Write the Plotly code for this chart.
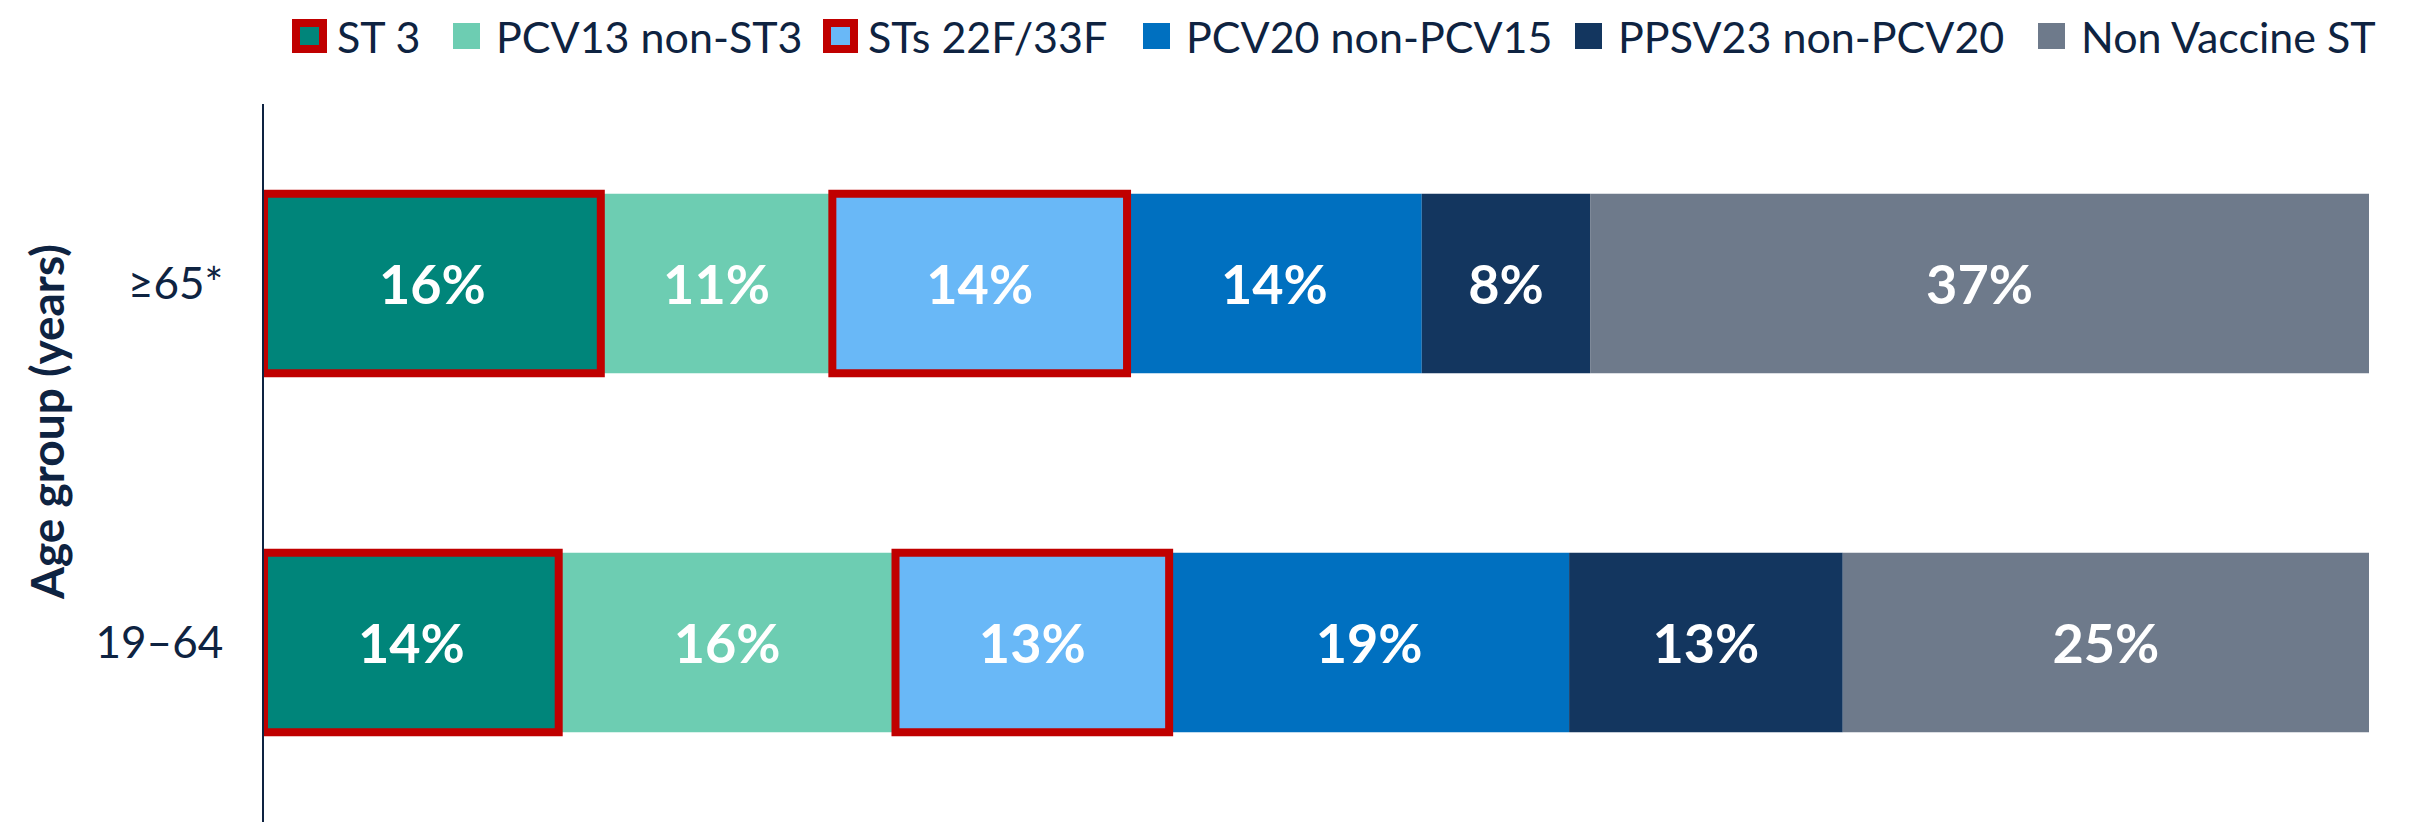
import numpy as np
import plotly.graph_objects as go

# data
age_groups = ["19–64", "≥65*"]
series_names = ["ST 3", "PCV13 non-ST3", "STs 22F/33F", "PCV20 non-PCV15",
                "PPSV23 non-PCV20", "Non Vaccine ST"]
st3 = [14, 16]
pcv13_non_st3 = [16, 11]
sts_22f_33f = [13, 14]
pcv20_non_pcv15 = [19, 14]
ppsv23_non_pcv20 = [13, 8]
non_vaccine_st = [25, 37]

series_values = [st3, pcv13_non_st3, sts_22f_33f, pcv20_non_pcv15,
                 ppsv23_non_pcv20, non_vaccine_st]
colors = ["#00857A", "#6DCDB2", "#69B8F7", "#0070C0", "#13365F", "#6E7A8B"]
outlined = [True, False, True, False, False, False]
RED = "#C00000"
NAVY = "#0E2341"
FONT = "Lato"

W, H = 2410, 822
L, R, T, B = 256, 49, 96, 8
OFF = 8  # the page body margin shifts the figure by 8px


def fx(px):
    return (px - OFF - L) / (W - L - R)


def fy(py):
    return (H - B - (py - OFF)) / (H - T - B)


bases = np.cumsum([[0, 0]] + series_values[:-1], axis=0)

traces = []
for name, vals, base, col, out in zip(series_names, series_values, bases, colors, outlined):
    traces.append((out, go.Bar(
        name=name, y=age_groups, x=vals, base=list(base), orientation="h",
        width=0.5, showlegend=False,
        marker=dict(color=col, line=dict(color=RED if out else col, width=8 if out else 0)),
        texttemplate="%{x}%", textposition="inside", insidetextanchor="middle",
        textangle=0, textfont=dict(family=FONT, size=54, color="white", weight="bold"),
        hoverinfo="skip",
    )))
# outlined bars last so the red borders sit on top of their neighbours
fig = go.Figure([t for out, t in traces if not out] + [t for out, t in traces if out])

# legend drawn by hand so the swatches can be as large as in the original
legend_x = [292, 453, 823, 1143, 1575, 2038]
legend_y = 36
shapes, annotations = [], []
for lx, name, col, out in zip(legend_x, series_names, colors, outlined):
    if out:
        shapes.append(dict(type="rect", xref="paper", yref="paper",
                           x0=fx(lx + 4), x1=fx(lx + 31),
                           y0=fy(legend_y + 13), y1=fy(legend_y - 13),
                           fillcolor=col, line=dict(color=RED, width=8)))
        tx = lx + 43
    else:
        shapes.append(dict(type="rect", xref="paper", yref="paper",
                           x0=fx(lx), x1=fx(lx + 27),
                           y0=fy(legend_y + 13), y1=fy(legend_y - 13),
                           fillcolor=col, line=dict(width=0)))
        tx = lx + 41
    annotations.append(dict(text=name, xref="paper", yref="paper", x=fx(tx), y=fy(legend_y),
                            xanchor="left", yanchor="middle", showarrow=False,
                            font=dict(family=FONT, size=43, color=NAVY)))

annotations.append(dict(text="<b>Age group (years)</b>", xref="paper", yref="paper",
                        x=fx(46), y=fy(422), textangle=-90, xanchor="center", yanchor="middle",
                        showarrow=False, font=dict(family=FONT, size=46, color=NAVY)))

fig.update_layout(
    width=W, height=H, barmode="overlay",
    margin=dict(l=L, r=R, t=T, b=B),
    plot_bgcolor="white", paper_bgcolor="white",
    shapes=shapes, annotations=annotations,
    xaxis=dict(range=[0, 100], visible=False),
    yaxis=dict(type="category", categoryorder="array", categoryarray=age_groups,
               range=[-0.5, 1.5], showline=True, linecolor=NAVY, linewidth=2,
               showgrid=False, ticks="", ticklabelstandoff=30,
               tickfont=dict(family=FONT, size=44, color=NAVY)),
)

fig.write_html("out.html")
